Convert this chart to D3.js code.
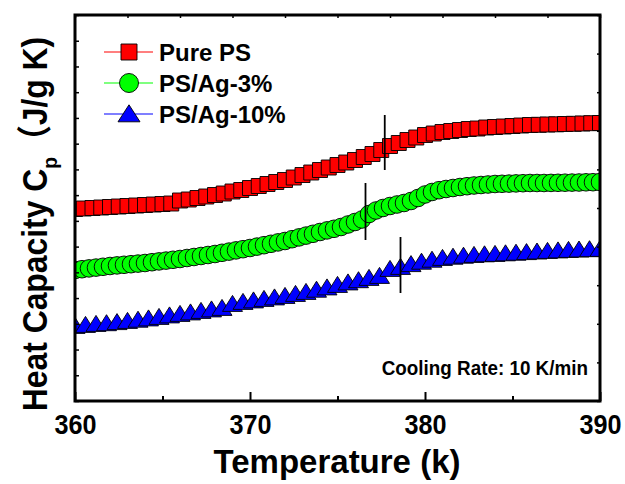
<!DOCTYPE html>
<html>
<head>
<meta charset="utf-8">
<script src="https://cdn.jsdelivr.net/npm/d3@7"></script>
<style>
  html, body { margin: 0; padding: 0; background: #fff; }
  svg text { font-family: Arial, "Liberation Sans", "Noto Sans CJK SC", sans-serif; font-weight: bold; fill: #000; }
</style>
</head>
<body>
<svg id="chart" width="625" height="484"></svg>
<script>
// ---- axis settings ----
const xDomain = [360, 390];
const xTicksMajor = [360, 370, 380, 390];
const xTicksMinor = [365, 375, 385];
const yDomain = [0, 3.86];          // Cp in arbitrary offset units (axis is unlabelled)

// ---- Pure PS (squares) ----
const tempPure = [360, 360.5, 361, 361.5, 362, 362.5, 363, 363.5, 364, 364.5, 365, 365.5,
  366, 366.5, 367, 367.5, 368, 368.5, 369, 369.5, 370, 370.5, 371, 371.5,
  372, 372.5, 373, 373.5, 374, 374.5, 375, 375.5, 376, 376.5, 377, 377.5,
  378, 378.5, 379, 379.5, 380, 380.5, 381, 381.5, 382, 382.5, 383, 383.5,
  384, 384.5, 385, 385.5, 386, 386.5, 387, 387.5, 388, 388.5, 389, 389.5, 390];
const cpPure = [1.92, 1.925, 1.93, 1.935, 1.94, 1.945, 1.95, 1.955, 1.96, 1.965, 1.97, 1.975,
  2.005, 2.015, 2.03, 2.045, 2.06, 2.075, 2.095, 2.11, 2.13, 2.15, 2.17, 2.19,
  2.21, 2.235, 2.26, 2.285, 2.31, 2.335, 2.36, 2.385, 2.41, 2.44, 2.47, 2.51,
  2.55, 2.58, 2.61, 2.635, 2.66, 2.675, 2.69, 2.70, 2.71, 2.72, 2.725, 2.735,
  2.74, 2.745, 2.75, 2.755, 2.76, 2.762, 2.765, 2.767, 2.77, 2.772, 2.775, 2.778, 2.78];

// ---- PS/Ag-3% (circles) ----
const tempAg3 = [360, 360.4, 360.8, 361.2, 361.6, 362, 362.4, 362.8, 363.2, 363.6,
  364, 364.4, 364.8, 365.2, 365.6, 366, 366.4, 366.8, 367.2, 367.6,
  368, 368.4, 368.8, 369.2, 369.6, 370, 370.4, 370.8, 371.2, 371.6,
  372, 372.4, 372.8, 373.2, 373.6, 374, 374.4, 374.8, 375.2, 375.6,
  376, 376.4, 376.8, 377.2, 377.6, 378, 378.4, 378.8, 379.2, 379.6,
  380, 380.4, 380.8, 381.2, 381.6, 382, 382.4, 382.8, 383.2, 383.6,
  384, 384.4, 384.8, 385.2, 385.6, 386, 386.4, 386.8, 387.2, 387.6,
  388, 388.4, 388.8, 389.2, 389.6, 390];
const cpAg3 = [1.31, 1.318, 1.326, 1.334, 1.342, 1.35, 1.356, 1.362, 1.368, 1.374,
  1.38, 1.388, 1.396, 1.404, 1.412, 1.42, 1.43, 1.44, 1.45, 1.46,
  1.47, 1.482, 1.494, 1.506, 1.518, 1.53, 1.544, 1.558, 1.572, 1.586,
  1.60, 1.618, 1.636, 1.654, 1.672, 1.69, 1.706, 1.722, 1.74, 1.765,
  1.79, 1.815, 1.87, 1.905, 1.93, 1.95, 1.965, 1.98, 2.00, 2.03,
  2.065, 2.09, 2.108, 2.12, 2.13, 2.14, 2.148, 2.155, 2.16, 2.165,
  2.17, 2.172, 2.174, 2.176, 2.178, 2.18, 2.18, 2.18, 2.181, 2.182,
  2.183, 2.184, 2.185, 2.187, 2.188, 2.19];

// ---- PS/Ag-10% (triangles) ----
const tempAg10 = [360, 360.6, 361.2, 361.8, 362.4, 363, 363.6, 364.2, 364.8, 365.4,
  366, 366.6, 367.2, 367.8, 368.4, 369, 369.6, 370.2, 370.8, 371.4,
  372, 372.6, 373.2, 373.8, 374.4, 375, 375.6, 376.2, 376.8, 377.4,
  378, 378.6, 379.2, 379.8, 380.4, 381, 381.6, 382.2, 382.8, 383.4,
  384, 384.6, 385.2, 385.8, 386.4, 387, 387.6, 388.2, 388.8, 389.4, 390];
const cpAg10 = [0.74, 0.75, 0.76, 0.767, 0.778, 0.79, 0.802, 0.815, 0.83, 0.845,
  0.86, 0.875, 0.89, 0.905, 0.92, 0.96, 0.98, 0.995, 1.01, 1.025,
  1.04, 1.06, 1.08, 1.102, 1.125, 1.15, 1.175, 1.197, 1.22, 1.24,
  1.31, 1.33, 1.358, 1.382, 1.402, 1.42, 1.432, 1.442, 1.45, 1.456,
  1.46, 1.466, 1.472, 1.478, 1.484, 1.49, 1.495, 1.50, 1.504, 1.507, 1.51];

// ---- glass transition markers (temperature, lower Cp, upper Cp) ----
const tgTemp = [377.7, 376.6, 378.6];
const tgLow  = [2.31, 1.61, 1.08];
const tgHigh = [2.86, 2.18, 1.64];

const seriesNames  = ["Pure PS", "PS/Ag-3%", "PS/Ag-10%"];
const seriesColors = ["#ff0000", "#00ff00", "#0000ff"];
const seriesSymbols = ["square", "circle", "triangle"];

const captionText = "Cooling Rate: 10 K/min";
const xTitle = "Temperature (k)";

// ---- layout ----
const plot = { left: 75, right: 600, top: 15, bottom: 401 };
const svg = d3.select("#chart");

const x = d3.scaleLinear().domain(xDomain).range([plot.left, plot.right]);
const y = d3.scaleLinear().domain(yDomain).range([plot.bottom, plot.top]);

svg.append("defs").append("clipPath").attr("id", "plotClip")
  .append("rect")
  .attr("x", plot.left).attr("y", plot.top)
  .attr("width", plot.right - plot.left).attr("height", plot.bottom - plot.top);

// marker path generators
function markerPath(kind, big) {
  if (kind === "square") {
    const s = big ? 16 : 15, h = s / 2;
    return `M${-h},${-h}H${h}V${h}H${-h}Z`;
  }
  if (kind === "circle") {
    const r = big ? 9.5 : 8.8;
    return `M${r},0A${r},${r} 0 1,1 ${-r},0A${r},${r} 0 1,1 ${r},0Z`;
  }
  const w = big ? 22 : 20, hgt = big ? 17 : 16;
  return `M0,${-hgt * 0.6}L${w / 2},${hgt * 0.4}L${-w / 2},${hgt * 0.4}Z`;
}

const seriesData = [
  tempPure.map((t, i) => ({ t, cp: cpPure[i] })),
  tempAg3.map((t, i) => ({ t, cp: cpAg3[i] })),
  tempAg10.map((t, i) => ({ t, cp: cpAg10[i] }))
];

const marks = svg.append("g").attr("clip-path", "url(#plotClip)");
seriesData.forEach((data, si) => {
  marks.append("g")
    .selectAll("path")
    .data(data)
    .join("path")
    .attr("d", markerPath(seriesSymbols[si], false))
    .attr("transform", d => `translate(${x(d.t)},${y(d.cp)})`)
    .attr("fill", seriesColors[si])
    .attr("stroke", "#000")
    .attr("stroke-width", 0.9);
});

// Tg markers
svg.append("g").selectAll("line")
  .data(tgTemp)
  .join("line")
  .attr("x1", d => x(d)).attr("x2", d => x(d))
  .attr("y1", (d, i) => y(tgHigh[i])).attr("y2", (d, i) => y(tgLow[i]))
  .attr("stroke", "#000").attr("stroke-width", 1.8);

// ---- axes ----
const xAxis = d3.axisBottom(x).tickValues(xTicksMajor).tickSizeInner(-9).tickSizeOuter(0)
  .tickPadding(13).tickFormat(d3.format("d"));
const gx = svg.append("g").attr("transform", `translate(0,${plot.bottom})`).call(xAxis);
gx.select(".domain").remove();
gx.selectAll(".tick line").attr("stroke", "#000").attr("stroke-width", 2);
gx.selectAll(".tick text")
  .style("font-size", "28px")
  .attr("dy", "0.71em")
  .attr("transform", "scale(0.9,1)");

const xMinor = d3.axisBottom(x).tickValues(xTicksMinor).tickSizeInner(-5).tickSizeOuter(0).tickFormat("");
const gxm = svg.append("g").attr("transform", `translate(0,${plot.bottom})`).call(xMinor);
gxm.select(".domain").remove();
gxm.selectAll(".tick line").attr("stroke", "#000").attr("stroke-width", 2);

// top axis ticks
const topTicks = d3.range(11).map(i => xDomain[0] + (xDomain[1] - xDomain[0]) * i / 10);
const gt = svg.append("g").attr("transform", `translate(0,${plot.top})`)
  .call(d3.axisTop(x).tickValues(topTicks).tickSizeInner(-3).tickSizeOuter(0).tickFormat(""));
gt.select(".domain").remove();
gt.selectAll(".tick line").attr("stroke", "#000").attr("stroke-width", 1.5);

// left axis ticks (unlabelled)
const leftTicks = d3.range(16).map(i => yDomain[0] + (yDomain[1] - yDomain[0]) * i / 15);
const gl = svg.append("g").attr("transform", `translate(${plot.left},0)`)
  .call(d3.axisLeft(y).tickValues(leftTicks).tickSizeInner(-4).tickSizeOuter(0).tickFormat(""));
gl.select(".domain").remove();
gl.selectAll(".tick line").attr("stroke", "#000").attr("stroke-width", 1.5);

// right axis ticks (unlabelled)
const rightTicks = d3.range(11).map(i => yDomain[0] + (yDomain[1] - yDomain[0]) * i / 10);
const gr = svg.append("g").attr("transform", `translate(${plot.right},0)`)
  .call(d3.axisRight(y).tickValues(rightTicks).tickSizeInner(-3).tickSizeOuter(0).tickFormat(""));
gr.select(".domain").remove();
gr.selectAll(".tick line").attr("stroke", "#000").attr("stroke-width", 1.5);

// frame
svg.append("rect")
  .attr("x", plot.left).attr("y", plot.top)
  .attr("width", plot.right - plot.left).attr("height", plot.bottom - plot.top)
  .attr("fill", "none").attr("stroke", "#000").attr("stroke-width", 3);

// ---- titles ----
svg.append("text")
  .attr("x", (plot.left + plot.right) / 2 - 0.5).attr("y", 473)
  .attr("text-anchor", "middle")
  .style("font-size", "33px")
  .text(xTitle);

const yTitle = svg.append("text")
  .attr("transform", "translate(47,224) rotate(-90) scale(0.91,1)")
  .attr("text-anchor", "middle")
  .style("font-size", "35px");
yTitle.append("tspan").text("Heat Capacity C");
yTitle.append("tspan").attr("dy", 10).style("font-size", "21px").text("p");
yTitle.append("tspan").attr("dy", -10).text("（J/g K)");

// ---- legend ----
const legendRows = [52, 83, 114];
const legend = svg.append("g");
seriesNames.forEach((name, i) => {
  const ly = legendRows[i];
  legend.append("line")
    .attr("x1", 104).attr("x2", 153).attr("y1", ly).attr("y2", ly)
    .attr("stroke", seriesColors[i]).attr("stroke-width", 1.2);
  legend.append("path")
    .attr("d", markerPath(seriesSymbols[i], true))
    .attr("transform", `translate(129,${ly + (seriesSymbols[i] === "triangle" ? 1 : 0)})`)
    .attr("fill", seriesColors[i]).attr("stroke", "#000").attr("stroke-width", 0.9);
  legend.append("text")
    .attr("x", 159).attr("y", ly + 8.5)
    .style("font-size", "24px")
    .text(name);
});

// ---- caption ----
svg.append("text")
  .attr("transform", "translate(588,375) scale(0.92,1)")
  .attr("text-anchor", "end")
  .style("font-size", "20.5px")
  .text(captionText);
</script>
</body>
</html>
